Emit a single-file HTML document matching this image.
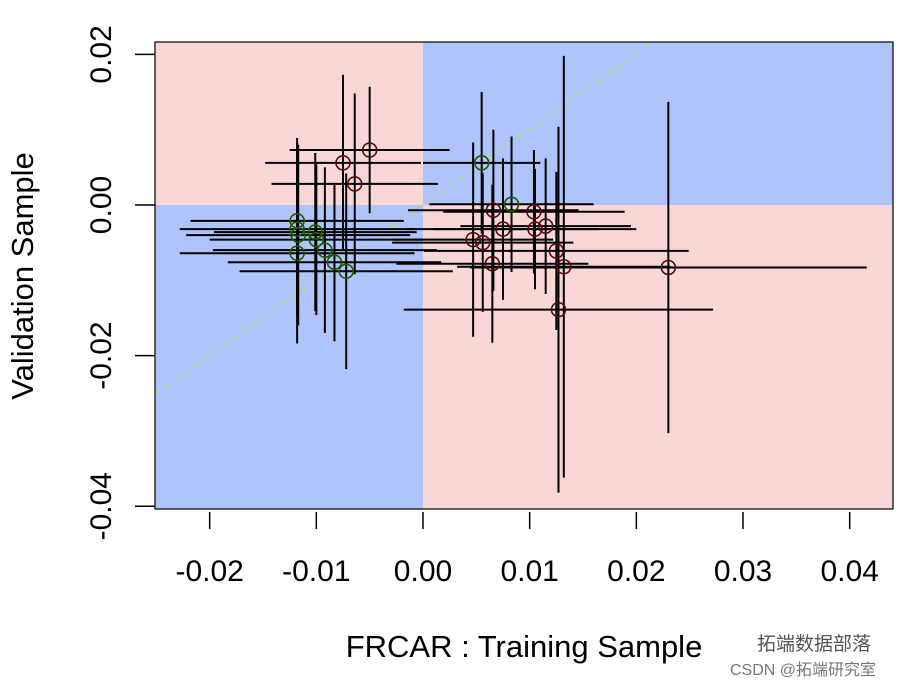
<!DOCTYPE html>
<html><head><meta charset="utf-8"><style>
html,body{margin:0;padding:0;background:#fff;}
svg{display:block;font-family:"Liberation Sans",Arial,sans-serif;}
</style></head><body>
<svg id="chart" width="916" height="686" xmlns="http://www.w3.org/2000/svg">
<g id="bg"></g><g id="diag"></g><g id="bars"></g><g id="pts"></g><g id="axes"></g>
<text x="524" y="657" font-size="31" text-anchor="middle" fill="#000">FRCAR : Training Sample</text>
<text transform="translate(33,276) rotate(-90)" font-size="31" text-anchor="middle" fill="#000">Validation Sample</text>
<text x="757" y="650" font-size="19" fill="#555" font-family="Liberation Sans, Noto Sans CJK SC, sans-serif">拓端数据部落</text>
<text x="730" y="675" font-size="16" fill="#777" font-family="Liberation Sans, Noto Sans CJK SC, sans-serif">CSDN @拓端研究室</text>
</svg>
<script>
const X  = [0.0055,0.0083,0.0066,0.0104,0.0075,0.0105,0.0115,0.0047,0.0056,0.0125,0.0065,0.0132,0.0230,0.0127,-0.0050,-0.0075,-0.0064,-0.0118,-0.0118,-0.0117,-0.0101,-0.0100,-0.0092,-0.0118,-0.0083,-0.0072];
const Y  = [0.0056,0.0001,-0.0007,-0.0009,-0.0032,-0.0032,-0.0028,-0.0046,-0.0050,-0.0061,-0.0078,-0.0082,-0.0083,-0.0139,0.0073,0.0056,0.0028,-0.0021,-0.0032,-0.0040,-0.0036,-0.0046,-0.0060,-0.0064,-0.0076,-0.0088];
const XE = [0.0055,0.0077,0.0080,0.0085,0.0090,0.0095,0.0080,0.0075,0.0085,0.0124,0.0090,0.0100,0.0186,0.0145,0.0075,0.0073,0.0078,0.0100,0.0110,0.0105,0.0095,0.0100,0.0105,0.0110,0.0100,0.0100];
const YE = [0.0094,0.0090,0.0107,0.0082,0.0094,0.0080,0.0090,0.0129,0.0092,0.0105,0.0105,0.0280,0.0220,0.0243,0.0084,0.0117,0.0120,0.0110,0.0115,0.0120,0.0105,0.0100,0.0110,0.0120,0.0105,0.0130];
const XTICKS = [-0.02,-0.01,0.00,0.01,0.02,0.03,0.04];
const YTICKS = [0.02,0.00,-0.02,-0.04];
const XLAB = ["-0.02","-0.01","0.00","0.01","0.02","0.03","0.04"];
const YLAB = ["0.02","0.00","-0.02","-0.04"];

const L=155,R=893,T=42,B=509;
const sx=v=>423+v*10667, sy=v=>205-v*7530;
const NS="http://www.w3.org/2000/svg";
function mk(tag,attrs,parent){const e=document.createElementNS(NS,tag);for(const k in attrs)e.setAttribute(k,attrs[k]);document.getElementById(parent).appendChild(e);return e;}
const x0=sx(0),y0=sy(0);
let r;
r=mk('rect',{x:L,y:T,width:x0-L,height:y0-T,fill:'#f9d7d7'},'bg');


r=mk('rect',{x:x0,y:T,width:R-x0,height:y0-T,fill:'#aec4fa'},'bg');


r=mk('rect',{x:L,y:y0,width:x0-L,height:B-y0,fill:'#aec4fa'},'bg');


r=mk('rect',{x:x0,y:y0,width:R-x0,height:B-y0,fill:'#f9d7d7'},'bg');


const dmin=(L-423)/10667, dmax=(205-T)/7530;
r=mk('line',{x1:sx(dmin),y1:sy(dmin),x2:sx(dmax),y2:sy(dmax),stroke:'#b8dc80','stroke-width':1.5,'stroke-dasharray':'6,6'},'diag');


for(let i=0;i<X.length;i++){
  const h=mk('line',{x1:sx(X[i]-XE[i]),y1:sy(Y[i]),x2:sx(X[i]+XE[i]),y2:sy(Y[i]),stroke:'#000','stroke-width':2},'bars');
  
  
  const v=mk('line',{x1:sx(X[i]),y1:sy(Y[i]-YE[i]),x2:sx(X[i]),y2:sy(Y[i]+YE[i]),stroke:'#000','stroke-width':2},'bars');
  
  
}
for(let i=0;i<X.length;i++){
  const col = X[i]*Y[i]>0 ? '#1e5a00' : '#5a0a0a';
  const c=mk('circle',{cx:sx(X[i]),cy:sy(Y[i]),r:7,fill:'none',stroke:col,'stroke-width':1.6},'pts');
  
  
}
r=mk('rect',{x:L,y:T,width:R-L,height:B-T,fill:'none',stroke:'#000','stroke-width':1.2},'axes');


XTICKS.forEach((t,i)=>{
  const l=mk('line',{x1:sx(t),y1:B+3,x2:sx(t),y2:B+20,stroke:'#000','stroke-width':1.5},'axes');
  
  
  const tx=mk('text',{x:sx(t),y:581,'font-size':30,'text-anchor':'middle',fill:'#000'},'axes');
  tx.textContent=XLAB[i];
  
  
});
YTICKS.forEach((t,i)=>{
  const l=mk('line',{x1:L-20,y1:sy(t),x2:L,y2:sy(t),stroke:'#000','stroke-width':1.5},'axes');
  
  
  const tx=mk('text',{transform:`translate(111,${sy(t)}) rotate(-90)`,'font-size':30,'text-anchor':'middle',fill:'#000'},'axes');
  tx.textContent=YLAB[i];
  
  
});
</script>
</body></html>
